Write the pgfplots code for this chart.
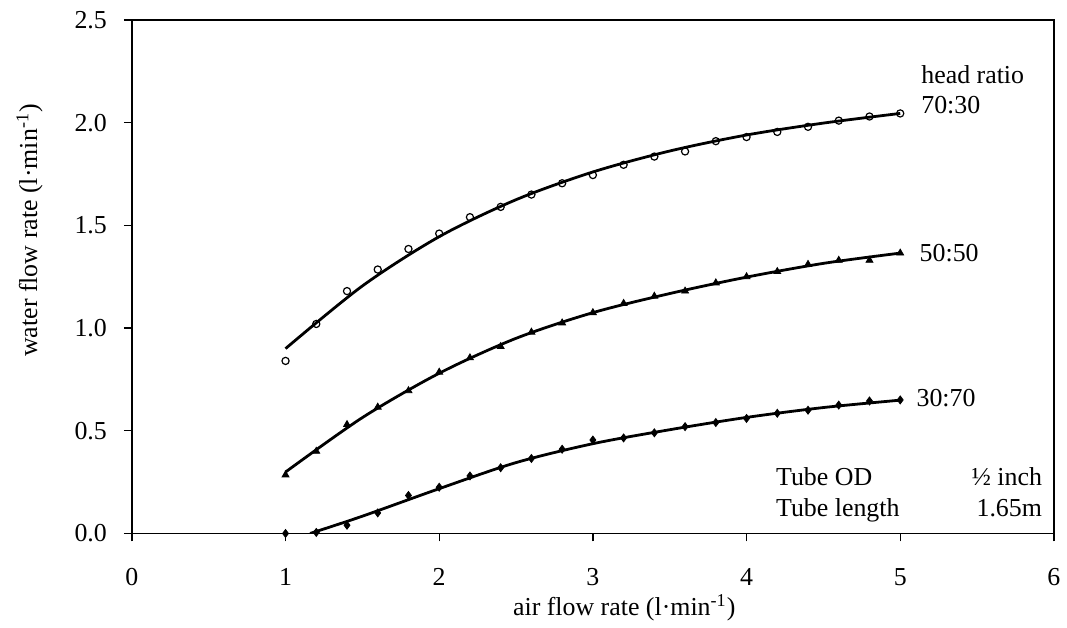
\documentclass[border=0pt]{standalone}
\usepackage{pgfplots}
\pgfplotsset{compat=1.18}
\usepackage{fontspec}
\setmainfont{Liberation Serif}

\newcommand{\fs}{\fontsize{13}{15}\selectfont}

\begin{document}
\begin{tikzpicture}[font=\fs]
\begin{axis}[
    at={(0,0)}, anchor=south west,
    scale only axis,
    width=461.5bp, height=257bp,
    xmin=0, xmax=6, ymin=0, ymax=2.5,
    xtick={0,1,...,6},
    ytick={0,0.5,...,2.5},
    tick align=outside,
    xtick pos=left, ytick pos=left,
    major tick length=4bp,
    axis line style={line width=0.9pt},
    tick style={line width=0.7pt, black},
    /pgf/number format/assume math mode=true,
    tick label style={font=\fs},
    yticklabel style={/pgf/number format/fixed, /pgf/number format/fixed zerofill,
        /pgf/number format/precision=1, xshift=-5bp},
    xticklabel style={yshift=-10bp},
    label style={font=\fs},
    xlabel={air flow rate (l·min\textsuperscript{-1})},
    ylabel={water flow rate (l·min\textsuperscript{-1})},
    xlabel style={at={(axis description cs:0.534,-0.145)}, anchor=center},
    ylabel style={at={(axis description cs:-0.111,0.59)}, anchor=center},
    clip=true,
]
% fitted trend lines
\addplot[black, line width=1.4pt, smooth, no marks] coordinates {
  (1,0.90) (1.5,1.205) (2,1.445) (2.5,1.625) (3,1.76)
  (3.5,1.862) (4,1.94) (4.5,1.998) (5,2.045)};
\addplot[black, line width=1.4pt, smooth, no marks] coordinates {
  (1,0.299) (1.5,0.564) (2,0.78) (2.5,0.95) (3,1.075) (3.5,1.168)
  (4,1.248) (4.5,1.315) (5,1.365)};
\addplot[black, line width=1.4pt, smooth, no marks] coordinates {
  (1.16,0) (1.5,0.084) (2,0.218) (2.5,0.345) (3,0.437) (3.5,0.505)
  (4,0.565) (4.5,0.613) (5,0.649)};

% measured points, head ratio 70:30
\addplot[only marks, mark=o, mark size=1.8pt, mark options={fill=white, line width=0.6pt}, black] coordinates {
  (1.0,0.84) (1.2,1.02) (1.4,1.18) (1.6,1.285) (1.8,1.385) (2.0,1.46) (2.2,1.54)
  (2.4,1.59) (2.6,1.65) (2.8,1.705) (3.0,1.745) (3.2,1.795) (3.4,1.835) (3.6,1.86)
  (3.8,1.91) (4.0,1.93) (4.2,1.955) (4.4,1.98) (4.6,2.01) (4.8,2.03) (5.0,2.045)};
% 50:50
\addplot[only marks, mark=triangle*, mark size=2pt, black] coordinates {
  (1.0,0.285) (1.2,0.40) (1.4,0.53) (1.6,0.615) (1.8,0.695) (2.0,0.785) (2.2,0.855)
  (2.4,0.91) (2.6,0.98) (2.8,1.025) (3.0,1.075) (3.2,1.12) (3.4,1.155) (3.6,1.18)
  (3.8,1.22) (4.0,1.25) (4.2,1.275) (4.4,1.31) (4.6,1.33) (4.8,1.33) (5.0,1.365)};
% 30:70
\addplot[only marks, mark=diamond*, mark size=2pt, black] coordinates {
  (1.0,0) (1.2,0.005) (1.4,0.04) (1.6,0.10) (1.8,0.185) (2.0,0.225) (2.2,0.28)
  (2.4,0.32) (2.6,0.365) (2.8,0.41) (3.0,0.455) (3.2,0.465) (3.4,0.49) (3.6,0.52)
  (3.8,0.54) (4.0,0.56) (4.2,0.585) (4.4,0.60) (4.6,0.625) (4.8,0.645) (5.0,0.65)};

\node[anchor=base west, inner sep=0] at (axis cs:5.135,2.189) {head ratio};
\node[anchor=base west, inner sep=0] at (axis cs:5.135,2.043) {70:30};
\node[anchor=base west, inner sep=0] at (axis cs:5.124,1.324) {50:50};
\node[anchor=base west, inner sep=0] at (axis cs:5.104,0.616) {30:70};
\node[anchor=base west, inner sep=0] at (axis cs:4.19,0.233) {Tube OD};
\node[anchor=base west, inner sep=0] at (axis cs:4.19,0.084) {Tube length};
\node[anchor=base east, inner sep=0] at (axis cs:5.925,0.233) {½ inch};
\node[anchor=base east, inner sep=0] at (axis cs:5.925,0.084) {1.65m};
\end{axis}
\path[use as bounding box] (-66bp,-44bp) rectangle (467.5bp,267bp);
\end{tikzpicture}
\end{document}
